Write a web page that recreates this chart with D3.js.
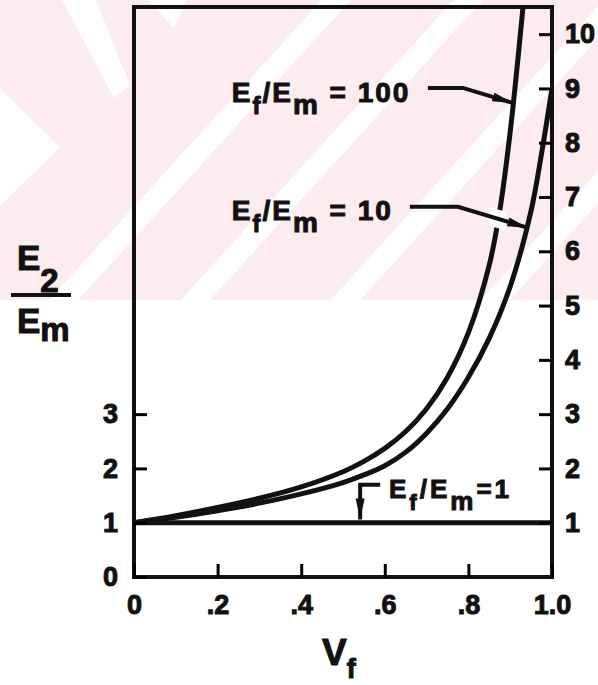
<!DOCTYPE html>
<html>
<head>
<meta charset="utf-8">
<script src="https://cdn.jsdelivr.net/npm/d3@7"></script>
<style>
html,body{margin:0;padding:0;background:#fff;}
svg{display:block;}
text{font-family:"Liberation Sans",Arial,Helvetica,sans-serif;font-weight:bold;fill:#111;stroke:#111;stroke-width:1px;}
</style>
</head>
<body>
<script>
// values
var vf100 = [0, .1, .2, .3, .4, .5, .55, .6, .65, .7, .75, .8, .85, .875, .9, .93, .94];
var e100  = [1, 1.13, 1.28, 1.45, 1.66, 1.94, 2.13, 2.37, 2.68, 3.1, 3.68, 4.5, 5.75, 6.75, 8.2, 10.45, 11.3];
var vf10  = [0, .1, .2, .3, .4, .5, .55, .6, .65, .7, .75, .8, .85, .9, .95, .975, 1];
var e10   = [1, 1.1, 1.22, 1.36, 1.53, 1.74, 1.88, 2.05, 2.3, 2.65, 3.1, 3.68, 4.4, 5.35, 6.75, 7.8, 9];
var vf1   = [0, 1];
var e1    = [1, 1];
var xTicks = [0, .2, .4, .6, .8, 1],
    xTickText = ['0', '.2', '.4', '.6', '.8', '1.0'];
var yLeftTicks = [0, 1, 2, 3];
var yRightTicks = [1, 2, 3, 4, 5, 6, 7, 8, 9, 10];

// labels + leaders (data units)
var labelPos = [[.234, 8.75], [.234, 6.58], [.61, 1.455]],
    labelTail = [' = 100', ' = 10', '=1'];
var lead100 = [[.703, 9.01], [.787, 9.01], [.907, 8.73]],
    lead10  = [[.660, 6.82], [.775, 6.82], [.943, 6.43]],
    lead1   = [[.589, 1.70], [.541, 1.70], [.541, 1.06]];

var width = 598, height = 685;
var svg = d3.select('body').append('svg').attr('width', width).attr('height', height);

// faint pink watermark in the upper part of the scan
var bg = svg.append('g');
bg.append('rect').attr('width', width).attr('height', 300).attr('fill', '#fcebef');
[370, 515, 680, 845].forEach(function(b){
	var pts = [[(b-16)/1.1, 0], [(b+16)/1.1, 0], [(b+16-300)/1.1, 300], [(b-16-300)/1.1, 300]];
	bg.append('polygon').attr('points', pts.join(' ')).attr('fill', '#fff');
});
bg.append('polygon').attr('points', '62,0 96,0 130,86 114,98').attr('fill', '#fff');
bg.append('polygon').attr('points', '0,88 60,147 0,206').attr('fill', '#fff');
bg.append('polygon').attr('points', '148,0 186,0 174,28').attr('fill', '#fff');

var x = d3.scaleLinear().domain([0, 1]).range([134, 552]);
var y = d3.scaleLinear().domain([0, 10.5]).range([577, 7]);

var defs = svg.append('defs');
defs.append('clipPath').attr('id', 'plot')
	.append('rect').attr('x', x(0)).attr('y', y(10.5)).attr('width', x(1) - x(0)).attr('height', y(0) - y(10.5));
defs.append('marker').attr('id', 'arr').attr('markerUnits', 'userSpaceOnUse')
	.attr('markerWidth', 24).attr('markerHeight', 14).attr('refX', 21).attr('refY', 6)
	.attr('orient', 'auto').attr('viewBox', '0 0 24 12')
	.append('path').attr('d', 'M0,1.5 L21,6 L0,10.5 Z').attr('fill', '#111');

// curves
var line = d3.line().x(function(d){return x(d[0]);}).y(function(d){return y(d[1]);}).curve(d3.curveCatmullRom.alpha(0.5));
var curves = svg.append('g').attr('clip-path', 'url(#plot)').attr('fill', 'none').attr('stroke', '#111').attr('stroke-width', 5);
curves.append('path').attr('d', line(d3.zip(vf100, e100)));
curves.append('path').attr('d', line(d3.zip(vf10, e10)));
curves.append('path').attr('d', line(d3.zip(vf1, e1)));

// frame
svg.append('rect').attr('x', x(0)).attr('y', y(10.5)).attr('width', x(1) - x(0)).attr('height', y(0) - y(10.5))
	.attr('fill', 'none').attr('stroke', '#111').attr('stroke-width', 4);

// axes
function styleAxis(g){
	g.select('.domain').remove();
	g.attr('font-size', 27).attr('font-family', null);
	g.selectAll('.tick line').attr('stroke-width', 3);
}
svg.append('g').attr('transform', 'translate(' + x(0) + ',0)')
	.call(d3.axisLeft(y).tickValues(yLeftTicks).tickSizeInner(-13).tickSizeOuter(0).tickPadding(16).tickFormat(d3.format('d')))
	.call(styleAxis);
svg.append('g').attr('transform', 'translate(' + x(1) + ',0)')
	.call(d3.axisRight(y).tickValues(yRightTicks).tickSizeInner(-13).tickSizeOuter(0).tickPadding(13).tickFormat(d3.format('d')))
	.call(styleAxis);
svg.append('g').attr('transform', 'translate(0,' + y(0) + ')')
	.call(d3.axisBottom(x).tickValues(xTicks).tickSizeInner(-13).tickSizeOuter(0).tickPadding(18).tickFormat(function(d, i){return xTickText[i];}))
	.call(styleAxis);

// axis titles
var vt = svg.append('text').attr('x', 322).attr('y', 665).attr('font-size', 37);
vt.append('tspan').text('V');
vt.append('tspan').attr('dy', 13).attr('font-size', 27).text('f');

var num = svg.append('text').attr('x', 17).attr('y', 270).attr('font-size', 35);
num.append('tspan').text('E');
num.append('tspan').attr('dy', 22).attr('font-size', 33).text('2');
svg.append('line').attr('x1', 11).attr('x2', 71).attr('y1', 295).attr('y2', 295).attr('stroke', '#111').attr('stroke-width', 4);
var den = svg.append('text').attr('x', 17).attr('y', 333).attr('font-size', 35);
den.append('tspan').text('E');
den.append('tspan').attr('dy', 8).attr('font-size', 33).text('m');

// curve labels
var lab = svg.append('g');
labelPos.forEach(function(p, i){
	var fs = i < 2 ? 28 : 26;
	var t = lab.append('text').attr('x', x(p[0])).attr('y', y(p[1])).attr('font-size', fs).attr('letter-spacing', i < 2 ? 2 : 3);
	t.append('tspan').text('E');
	t.append('tspan').attr('dy', 12).attr('font-size', fs * 0.85).text('f');
	t.append('tspan').attr('dy', -12).text('/E');
	t.append('tspan').attr('dy', 12).text('m');
	t.append('tspan').attr('dy', -12).text(labelTail[i]);
});

// leaders
var leadLine = d3.line().x(function(d){return x(d[0]);}).y(function(d){return y(d[1]);});
// gap in the E_f/E_m=100 curve where the lower leader crosses it
defs.append('clipPath').attr('id', 'gap')
	.append('rect').attr('x', x(.85)).attr('y', y(7.2)).attr('width', x(.89) - x(.85)).attr('height', y(6) - y(7.2));
svg.append('path').attr('d', leadLine(lead10)).attr('clip-path', 'url(#gap)')
	.attr('fill', 'none').attr('stroke', '#fff').attr('stroke-width', 18);
[lead100, lead10, lead1].forEach(function(l){
	svg.append('path').attr('d', leadLine(l)).attr('fill', 'none').attr('stroke', '#111')
		.attr('stroke-width', 4).attr('marker-end', 'url(#arr)');
});
</script>
</body>
</html>
